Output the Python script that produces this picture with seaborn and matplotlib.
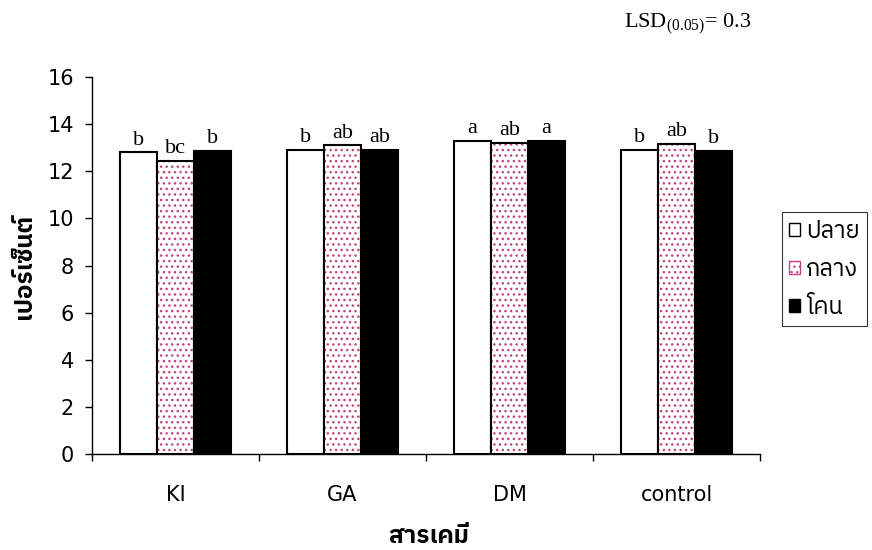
import numpy as np
import pandas as pd
import matplotlib
matplotlib.use("Agg")
import matplotlib.pyplot as plt
import matplotlib.font_manager as fm
from matplotlib.patches import Rectangle
import seaborn as sns

# ---------------- data ----------------
categories = ["KI", "GA", "DM", "control"]
positions = ["ปลาย", "กลาง", "โคน"]
vals_tip = [12.8, 12.9, 13.3, 12.9]
vals_mid = [12.45, 13.1, 13.2, 13.15]
vals_base = [12.85, 12.9, 13.3, 12.85]
letters_tip = ["b", "b", "a", "b"]
letters_mid = ["bc", "ab", "ab", "ab"]
letters_base = ["b", "ab", "a", "b"]
y_ticks = [0, 2, 4, 6, 8, 10, 12, 14, 16]
x_title = "สารเคมี"
y_title = "เปอร์เซ็นต์"
lsd_text = r"LSD$_{(0.05)}$= 0.3"

# ---------------- find a Thai-capable font ----------------
thai_family = None
try:
    from fontTools.ttLib import TTFont
    cands = []
    for path in fm.findSystemFonts():
        try:
            f = TTFont(path, fontNumber=0, lazy=True)
            cmap = f.getBestCmap()
            if cmap and 0x0E01 in cmap and 0x0E40 in cmap and 0x0E2A in cmap:
                cands.append(path)
        except Exception:
            pass
    def score(p):
        n = p.lower()
        s = 0
        if "sans" in n or "tahoma" in n or "loma" in n or "garuda" in n:
            s -= 2
        if "serif" in n and "sans" not in n:
            s += 2
        if "bold" in n or "italic" in n or "oblique" in n:
            s += 1
        return s
    cands.sort(key=score)
    if cands:
        for c in cands:
            try:
                fm.fontManager.addfont(c)
            except Exception:
                pass
        thai_family = fm.FontProperties(fname=cands[0]).get_name()
except Exception:
    thai_family = None

sns.set_theme(style="white")
fams = ["DejaVu Sans"]
if thai_family:
    fams = ["DejaVu Sans", thai_family]
plt.rcParams["font.family"] = fams
plt.rcParams["text.color"] = "black"
plt.rcParams["xtick.color"] = "black"
plt.rcParams["ytick.color"] = "black"
plt.rcParams["mathtext.fontset"] = "custom"
plt.rcParams["mathtext.rm"] = "Liberation Serif"
plt.rcParams["mathtext.it"] = "Liberation Serif"

df = pd.DataFrame({
    "cat": categories * 3,
    "pos": [positions[0]] * 4 + [positions[1]] * 4 + [positions[2]] * 4,
    "val": vals_tip + vals_mid + vals_base,
})

fig = plt.figure(figsize=(8.72, 5.5), dpi=100)
ax = fig.add_axes([0.1055, 0.1745, 0.7661, 0.6855])

pal = {positions[0]: "white", positions[1]: "white", positions[2]: "black"}
sns.barplot(data=df, x="cat", y="val", hue="pos", order=categories,
            hue_order=positions, palette=pal, width=0.667, gap=0,
            edgecolor="black", linewidth=1.5, saturation=1, ax=ax,
            legend=False, errorbar=None)

pink = "#C2457F"
letters = [letters_tip, letters_mid, letters_base]
for ci, cont in enumerate(ax.containers):
    for bi, bar in enumerate(cont.patches):
        bar.set_zorder(2)
        if ci == 1:
            bar.set_hatch("...")
            bar.set_edgecolor(pink)
            bar.set_linewidth(0)
            ol = Rectangle(bar.get_xy(), bar.get_width(), bar.get_height(),
                           facecolor="none", edgecolor="black", linewidth=1.5,
                           zorder=3)
            ax.add_patch(ol)
        ax.annotate(letters[ci][bi],
                    (bar.get_x() + bar.get_width() / 2, bar.get_height()),
                    xytext=(0, 2), textcoords="offset points",
                    ha="center", va="bottom", fontsize=16,
                    family="Liberation Serif")

ax.set_ylim(0, 16)
ax.set_xlim(-0.5, len(categories) - 0.5)
ax.set_yticks(y_ticks)
ax.set_yticklabels([str(t) for t in y_ticks], fontsize=15)
ax.set_xticks(np.arange(len(categories) + 1) - 0.5)
ax.set_xticklabels([])
ax.set_xticks(np.arange(len(categories)), minor=True)
ax.set_xticklabels(categories, minor=True, fontsize=15)
ax.tick_params(axis="x", which="major", direction="out", length=5,
               width=1, color="black", bottom=True)
ax.tick_params(axis="x", which="minor", length=0, pad=22)
ax.tick_params(axis="y", direction="out", length=5, width=1,
               color="black", left=True, pad=8)
for s in ["top", "right"]:
    ax.spines[s].set_visible(False)
for s in ["left", "bottom"]:
    ax.spines[s].set_color("black")
    ax.spines[s].set_linewidth(1)
ax.set_xlabel("")
ax.set_ylabel("")

fig.text(0.492, 0.025, x_title, ha="center", va="center", fontsize=17.5,
         fontweight="bold")
fig.text(0.027, 0.515, y_title, ha="center", va="center", fontsize=17.5,
         fontweight="bold", rotation=90)
fig.text(0.716, 0.951, lsd_text, ha="left", va="baseline", fontsize=16,
         family="Liberation Serif")

handles = [
    Rectangle((0, 0), 1, 1, facecolor="white", edgecolor="black", linewidth=1),
    Rectangle((0, 0), 1, 1, facecolor="white", edgecolor=pink, hatch="...",
              linewidth=1),
    Rectangle((0, 0), 1, 1, facecolor="black", edgecolor="black", linewidth=1),
]
leg = fig.legend(handles, positions, loc="upper left",
                 bbox_to_anchor=(0.897, 0.615), fontsize=17, frameon=True,
                 fancybox=False, edgecolor="black", handlelength=0.45,
                 handleheight=0.45, handletextpad=0.25, borderpad=0.3,
                 labelspacing=0.6, borderaxespad=0)
leg.get_frame().set_linewidth(0.8)

fig.savefig("out.png", dpi=100)
